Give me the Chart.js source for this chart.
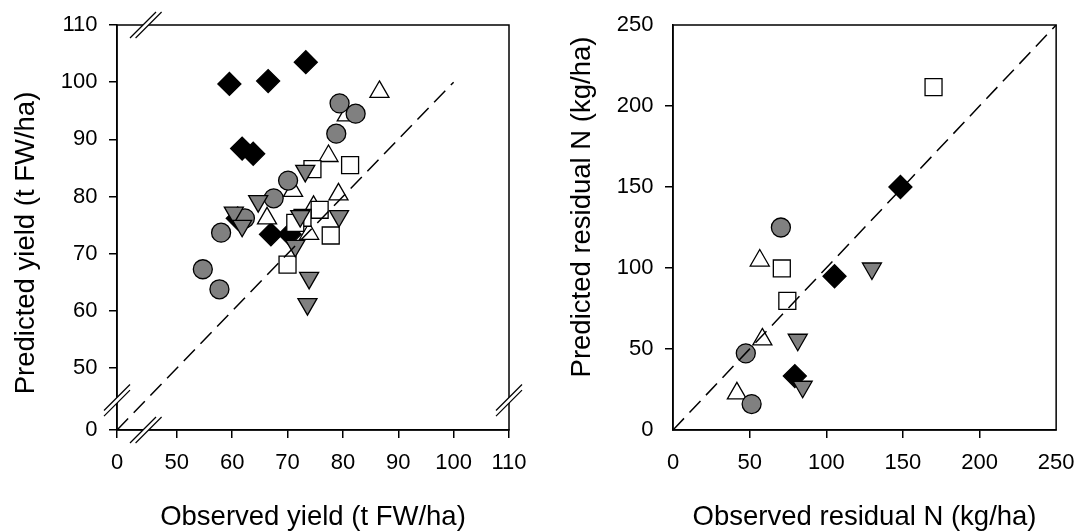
<!DOCTYPE html>
<html><head><meta charset="utf-8">
<script src="https://cdn.jsdelivr.net/npm/chart.js@4/dist/chart.umd.min.js"></script>
<style>
html,body{margin:0;padding:0;background:#fff;}
#wrap{position:relative;width:1086px;height:532px;overflow:hidden;}
#c1{position:absolute;left:0;top:0;}
#c2{position:absolute;left:543px;top:0;}
</style></head><body>
<div id="wrap"><canvas id="c1" width="543" height="532"></canvas><canvas id="c2" width="543" height="532"></canvas></div>
<script>
// ---------- Left panel: yield (t FW/ha) ----------
const yieldTickLabels = [0, 50, 60, 70, 80, 90, 100, 110];
const yieldAxisStart = 39.2;   // value at the broken-axis origin (labelled 0)
const yieldBreakAt = 44.4;     // where the axis-break marks sit
const yieldAxisMax = 110;
const yieldOneToOne = [yieldAxisStart, 100];

const yCircleObs  = [79.4, 82.3, 78.8, 70.1, 67.5, 62.3, 58.0, 54.7, 57.7];
const yCirclePred = [96.3, 94.5, 91.0, 82.8, 79.7, 76.2, 73.7, 67.3, 63.8];
const yTriObs     = [86.6, 80.7, 77.4, 71.0, 79.2, 74.7, 66.3, 73.9];
const yTriPred    = [98.3, 94.2, 87.1, 81.0, 80.4, 78.2, 76.2, 73.5];
const ySqObs      = [74.5, 81.3, 75.8, 72.7, 71.4, 77.8, 70.0];
const ySqPred     = [84.8, 85.5, 77.7, 76.3, 75.4, 73.2, 68.1];
const yInvObs     = [73.2, 64.7, 60.3, 61.8, 72.3, 79.3, 71.4, 73.9, 73.6];
const yInvPred    = [84.5, 79.2, 77.2, 74.9, 76.6, 76.6, 71.4, 65.8, 61.2];
const yDiaObs     = [73.3, 59.5, 66.5, 61.8, 63.8, 61.0, 67.0, 70.4];
const yDiaPred    = [103.5, 99.7, 100.2, 88.4, 87.5, 76.2, 73.4, 73.4];

// ---------- Right panel: residual N (kg/ha) ----------
const nTickLabels = [0, 50, 100, 150, 200, 250];
const nOneToOne = [0, 250];
const nCircleObs  = [70.4, 47.5, 51.3];
const nCirclePred = [125.0, 47.3, 16.0];
const nTriObs     = [56.6, 58.3, 41.7];
const nTriPred    = [104.6, 55.9, 22.6];
const nSqObs      = [170.0, 71.0, 74.6];
const nSqPred     = [211.7, 99.7, 79.7];
const nInvObs     = [129.8, 81.4, 84.6];
const nInvPred    = [99.7, 55.7, 26.7];
const nDiaObs     = [148.4, 105.4, 79.5];
const nDiaPred    = [150.0, 94.9, 33.3];

const FONT = "'Liberation Sans', Arial, sans-serif";
Chart.defaults.font.family = FONT;
Chart.defaults.color = '#000';

const pts = (xs, ys) => xs.map((x, i) => ({x, y: ys[i]}));
const GRAY = 'rgb(128,128,128)';

function seriesSet(c, t, s, v, d, line) {
  const base = {borderColor: '#000', borderWidth: 1.3, pointHoverRadius: 0};
  return [
    {type: 'line', data: pts(line, line), borderColor: '#000', borderWidth: 1.5,
     borderDash: [16, 8], pointRadius: 0, fill: false, order: 0},
    Object.assign({data: pts(v[0], v[1]), pointStyle: 'triangle', rotation: 180, radius: 11,
     backgroundColor: GRAY, order: 1}, base),
    Object.assign({data: pts(s[0], s[1]), pointStyle: 'rect', radius: 12,
     backgroundColor: '#fff', order: 2}, base),
    Object.assign({data: pts(c[0], c[1]), pointStyle: 'circle', radius: 9.5,
     backgroundColor: GRAY, order: 3}, base),
    Object.assign({data: pts(t[0], t[1]), pointStyle: 'triangle', radius: 11,
     backgroundColor: '#fff', order: 4}, base),
    Object.assign({data: pts(d[0], d[1]), pointStyle: 'rectRot', radius: 11.5,
     backgroundColor: '#000', order: 5}, base)
  ];
}

function drawBreak(ctx, cx, cy, dir) {
  const h = 13, s = 2.8;
  const o = dir === 'h' ? [[-s, 0], [s, 0]] : [[0, s], [0, -s]];
  ctx.fillStyle = '#fff';
  ctx.beginPath();
  ctx.moveTo(cx + o[0][0] - h, cy + o[0][1] + h);
  ctx.lineTo(cx + o[0][0] + h, cy + o[0][1] - h);
  ctx.lineTo(cx + o[1][0] + h, cy + o[1][1] - h);
  ctx.lineTo(cx + o[1][0] - h, cy + o[1][1] + h);
  ctx.closePath(); ctx.fill();
  ctx.strokeStyle = '#000'; ctx.lineWidth = 1.2;
  o.forEach(p => {
    ctx.beginPath();
    ctx.moveTo(cx + p[0] - h, cy + p[1] + h);
    ctx.lineTo(cx + p[0] + h, cy + p[1] - h);
    ctx.stroke();
  });
}

const framePlugin = {
  id: 'frame',
  afterDraw(chart, args, o) {
    const {ctx, chartArea: a, scales} = chart;
    ctx.save();
    ctx.strokeStyle = '#000'; ctx.lineWidth = 1.5;
    ctx.strokeRect(a.left, a.top, a.right - a.left, a.bottom - a.top);
    if (o.breakAt != null) {
      const bx = scales.x.getPixelForValue(o.breakAt);
      const by = scales.y.getPixelForValue(o.breakAt);
      drawBreak(ctx, bx, a.top, 'h');
      drawBreak(ctx, bx, a.bottom, 'h');
      drawBreak(ctx, a.left, by, 'v');
      drawBreak(ctx, a.right, by, 'v');
    }
    ctx.fillStyle = '#000';
    ctx.font = '27.5px ' + FONT;
    ctx.textAlign = 'center'; ctx.textBaseline = 'alphabetic';
    ctx.fillText(o.xTitle, (a.left + a.right) / 2, o.xBase);
    ctx.translate(o.yBaseX, o.yCenter);
    ctx.rotate(-Math.PI / 2);
    ctx.fillText(o.yTitle, 0, 0);
    ctx.restore();
  }
};

function axis(min, max, tickVals, tickLabels, isX, fixedSize, endTicks) {
  return {
    type: 'linear', min, max,
    afterBuildTicks: sc => { sc.ticks = tickVals.map(v => ({value: v})); },
    afterFit: sc => { if (isX) sc.height = fixedSize; else sc.width = fixedSize; },
    ticks: {
      autoSkip: false, maxRotation: 0, padding: 11.5,
      font: {size: 22, family: FONT}, color: '#000',
      callback: (v, i) => String(tickLabels[i])
    },
    grid: {
      display: true, drawOnChartArea: false, drawTicks: true, tickLength: 8,
      lineWidth: 1.5,
      color: ctx => (!endTicks && (ctx.index === 0 || ctx.index === tickVals.length - 1)) ? 'rgba(0,0,0,0)' : '#000'
    },
    border: {display: true, color: '#000', width: 1.5}
  };
}

const yieldTickVals = yieldTickLabels.map(v => v === 0 ? yieldAxisStart : v);

new Chart(document.getElementById('c1'), {
  type: 'scatter',
  data: {datasets: seriesSet([yCircleObs, yCirclePred], [yTriObs, yTriPred], [ySqObs, ySqPred],
                             [yInvObs, yInvPred], [yDiaObs, yDiaPred], yieldOneToOne)},
  options: {
    responsive: false, animation: false, devicePixelRatio: 1,
    layout: {padding: {left: 0, right: 34, top: 25, bottom: 0}},
    plugins: {legend: {display: false}, tooltip: {enabled: false},
      frame: {breakAt: yieldBreakAt, xTitle: 'Observed yield (t FW/ha)', xBase: 524.5,
              yTitle: 'Predicted yield (t FW/ha)', yBaseX: 33.5, yCenter: 243}},
    scales: {
      x: axis(yieldAxisStart, yieldAxisMax, yieldTickVals, yieldTickLabels, true, 102, true),
      y: axis(yieldAxisStart, yieldAxisMax, yieldTickVals, yieldTickLabels, false, 117, true)
    }
  },
  plugins: [framePlugin]
});

new Chart(document.getElementById('c2'), {
  type: 'scatter',
  data: {datasets: seriesSet([nCircleObs, nCirclePred], [nTriObs, nTriPred], [nSqObs, nSqPred],
                             [nInvObs, nInvPred], [nDiaObs, nDiaPred], nOneToOne)},
  options: {
    responsive: false, animation: false, devicePixelRatio: 1,
    layout: {padding: {left: 0, right: 20, top: 25, bottom: 0}},
    plugins: {legend: {display: false}, tooltip: {enabled: false},
      frame: {breakAt: null, xTitle: 'Observed residual N (kg/ha)', xBase: 524.5,
              yTitle: 'Predicted residual N (kg/ha)', yBaseX: 47, yCenter: 207}},
    scales: {
      x: axis(0, 250, nTickLabels, nTickLabels, true, 102, false),
      y: axis(0, 250, nTickLabels, nTickLabels, false, 130, false)
    }
  },
  plugins: [framePlugin]
});
</script>
</body></html>
